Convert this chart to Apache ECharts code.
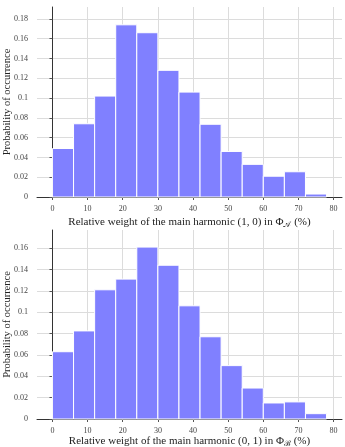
<!DOCTYPE html>
<html>
<head>
<meta charset="utf-8">
<script src="https://cdn.jsdelivr.net/npm/echarts@6/dist/echarts.min.js"></script>
<style>html,body{margin:0;padding:0;background:#fff}#c{width:345px;height:447px}</style>
</head>
<body>
<div id="c"></div>
<script>
// Histogram bin edges (%)
const binEdges = [0, 6, 12, 18, 24, 30, 36, 42, 48, 54, 60, 66, 72, 78];
// Probability of occurrence per bin
const probA = [0.049, 0.074, 0.102, 0.174, 0.166, 0.128, 0.106, 0.0735, 0.046, 0.033, 0.021, 0.0255, 0.003];
const probB = [0.063, 0.0825, 0.121, 0.131, 0.161, 0.144, 0.106, 0.077, 0.050, 0.029, 0.015, 0.016, 0.005];
// Tick values
const xTicks = [0, 10, 20, 30, 40, 50, 60, 70, 80];
const yTicksA = [0, 0.02, 0.04, 0.06, 0.08, 0.1, 0.12, 0.14, 0.16, 0.18];
const yTicksB = [0, 0.02, 0.04, 0.06, 0.08, 0.1, 0.12, 0.14, 0.16];

const serif = '"Liberation Serif", "DejaVu Serif", serif';
const barColor = '#8080ff';

function toData(vals) {
  return vals.map((v, i) => [binEdges[i], binEdges[i + 1], v]);
}
function renderBar(params, api) {
  const p0 = api.coord([api.value(0), api.value(2)]);
  const p1 = api.coord([api.value(1), 0]);
  return {
    type: 'rect',
    shape: { x: p0[0], y: p0[1], width: p1[0] - p0[0], height: p1[1] - p0[1] },
    style: { fill: barColor, stroke: '#ffffff', lineWidth: 1 }
  };
}
function xAxisCfg(gi, titleRich, gap) {
  return {
    type: 'value', gridIndex: gi, min: -4.4, max: 82.4,
    axisLine: { show: true, onZero: false, lineStyle: { color: '#333', width: 1 } },
    axisTick: { show: true, length: 3, lineStyle: { color: '#555' }, customValues: xTicks },
    axisLabel: { customValues: xTicks, color: '#444', fontFamily: serif, fontSize: 8, margin: 8 },
    splitLine: { show: true, lineStyle: { color: '#dcdcdc', width: 1 } },
    name: titleRich, nameLocation: 'middle', nameGap: gap, nameMoveOverlap: false,
    nameTextStyle: {
      color: '#222', fontFamily: serif, fontSize: 11,
      rich: {
        n: { fontFamily: serif, fontSize: 11, color: '#222' },
        s: { fontFamily: serif, fontSize: 8, color: '#222', padding: [5, 0, 0, 0] }
      }
    }
  };
}
function yAxisCfg(gi, max, ticks) {
  return {
    type: 'value', gridIndex: gi, min: 0, max: max,
    axisLine: { show: true, lineStyle: { color: '#333', width: 1 } },
    axisTick: { show: true, length: 3, lineStyle: { color: '#555' }, customValues: ticks },
    axisLabel: { customValues: ticks, color: '#444', fontFamily: serif, fontSize: 8, margin: 9 },
    splitLine: { show: true, lineStyle: { color: '#dcdcdc', width: 1 } },
    name: 'Probability of occurrence', nameLocation: 'middle', nameGap: 24, nameRotate: 90,
    nameMoveOverlap: false,
    nameTextStyle: { color: '#222', fontFamily: serif, fontSize: 10.5 }
  };
}

const chart = echarts.init(document.getElementById('c'), null, { renderer: 'canvas' });
chart.setOption({
  animation: false,
  backgroundColor: '#fff',
  grid: [
    { left: 37, right: 3, top: 7, height: 190, containLabel: false, outerBoundsMode: 'none' },
    { left: 37, right: 3, top: 230, height: 189, containLabel: false, outerBoundsMode: 'none' }
  ],
  xAxis: [
    xAxisCfg(0, '{n|Relative weight of the main harmonic (1, 0) in Φ}{s|𝒜}{n| (%)}', 18.5),
    xAxisCfg(1, '{n|Relative weight of the main harmonic (0, 1) in Φ}{s|ℬ}{n| (%)}', 16)
  ],
  yAxis: [
    yAxisCfg(0, 0.192, yTicksA),
    yAxisCfg(1, 0.177, yTicksB)
  ],
  series: [
    { type: 'custom', xAxisIndex: 0, yAxisIndex: 0, renderItem: renderBar, data: toData(probA), encode: { x: [0, 1], y: 2 } },
    { type: 'custom', xAxisIndex: 1, yAxisIndex: 1, renderItem: renderBar, data: toData(probB), encode: { x: [0, 1], y: 2 } }
  ]
});
</script>
</body>
</html>
